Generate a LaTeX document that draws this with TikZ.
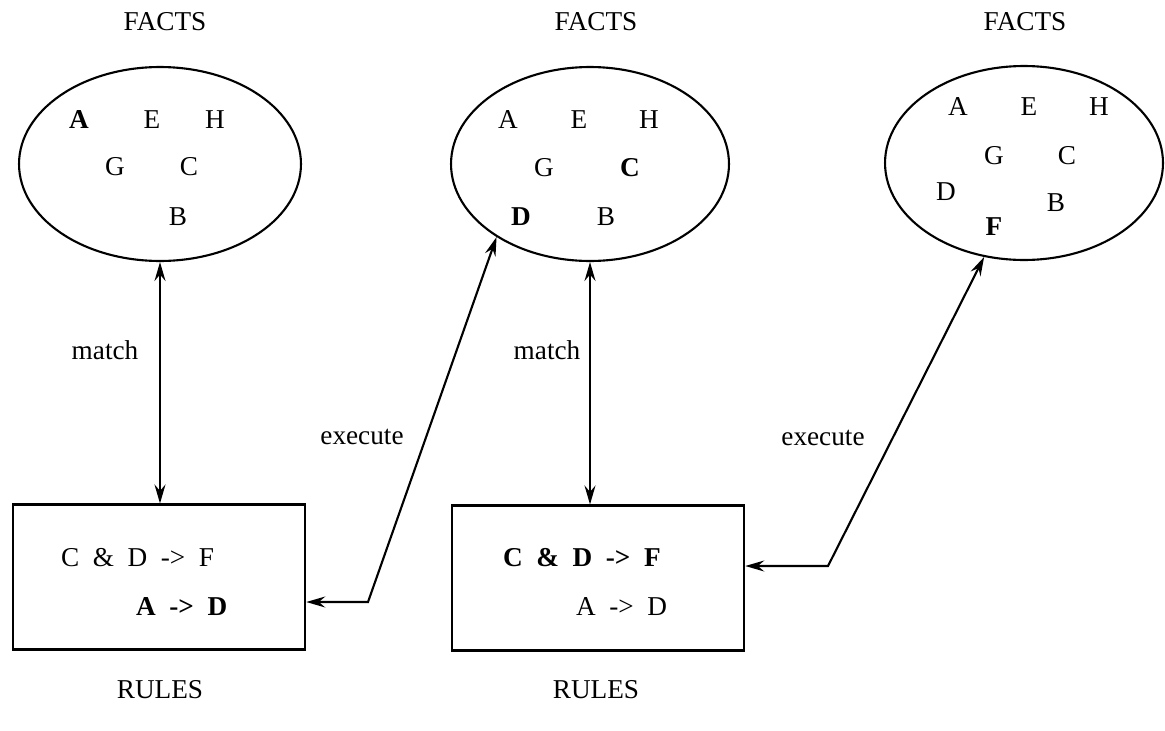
\documentclass[tikz,border=0pt]{standalone}
\usepackage{fontspec}
\setmainfont{Liberation Serif}
\usetikzlibrary{shapes.geometric,arrows.meta}

\begin{document}
\begin{tikzpicture}[x=0.02cm, y=-0.02cm, line width=1.2pt, inner sep=0pt,
    font=\fontsize{15.5}{18}\selectfont,
    >={Stealth[length=3.8mm,width=2.2mm,inset=1.3mm]},
    facts/.style = {draw, ellipse, minimum width=5.56cm, minimum height=3.88cm},
    rules/.style = {draw, rectangle, minimum width=5.85cm, minimum height=2.9cm}]
    \useasboundingbox (0,0) rectangle (1165,730);

    % fact bases
    \node[facts, minimum width=5.64cm] (f1) at (160,164) {};
    \node[facts] (f2) at (590,164) {};
    \node[facts] (f3) at (1024,163) {};
    \node (t1) at (165,22) {FACTS};
    \node (t2) at (596,22) {FACTS};
    \node (t3) at (1025,22) {FACTS};

    \node (a1) at (79,120) {\textbf{A}};
    \node (e1) at (152,120) {E};
    \node (h1) at (215,120) {H};
    \node (g1) at (115,167) {G};
    \node (c1) at (189,167) {C};
    \node (b1) at (178,217) {B};

    \node (a2) at (508,120) {A};
    \node (e2) at (579,120) {E};
    \node (h2) at (649,120) {H};
    \node (g2) at (544,168) {G};
    \node (c2) at (630,168) {\textbf{C}};
    \node (d2) at (521,217) {\textbf{D}};
    \node (b2) at (606,217) {B};

    \node (a3) at (958,107) {A};
    \node (e3) at (1029,107) {E};
    \node (h3) at (1099,107) {H};
    \node (g3) at (994,156) {G};
    \node (c3) at (1067,156) {C};
    \node (d3) at (946,192) {D};
    \node (b3) at (1056,203) {B};
    \node (ff3) at (994,227) {\textbf{F}};

    % rule bases
    \node[rules] (r1) at (159,577) {};
    \node[rules] (r2) at (598,578) {};
    \node (u1) at (160,690) {RULES};
    \node (u2) at (596,690) {RULES};

    \node[anchor=west] (p1) at (60,558) {C~~\&~~D~~->~~F};
    \node[anchor=west] (q1) at (135,607) {\textbf{A~~->~~D}};
    \node[anchor=west] (p2) at (502,558) {\textbf{C~~\&~~D~~->~~F}};
    \node[anchor=west] (q2) at (575,607) {A~~->~~D};

    % match and execute
    \draw[<->] (f1.south) -- (f1.south |- r1.north);
    \draw[<->] (f2.south) -- (f2.south |- r2.north);
    \node (m1) at (105,350) {match};
    \node (m2) at (547,350) {match};

    \coordinate (k1) at (368,602);
    \coordinate (k2) at (828,566);
    \draw[<->] (r1.east |- k1) -- (k1) -- (f2.218);
    \draw[<->] (r2.east |- k2) -- (k2) -- (f3.247);
    \node (x1) at (362,437) {execute};
    \node (x2) at (823,438) {execute};
\end{tikzpicture}
\end{document}
